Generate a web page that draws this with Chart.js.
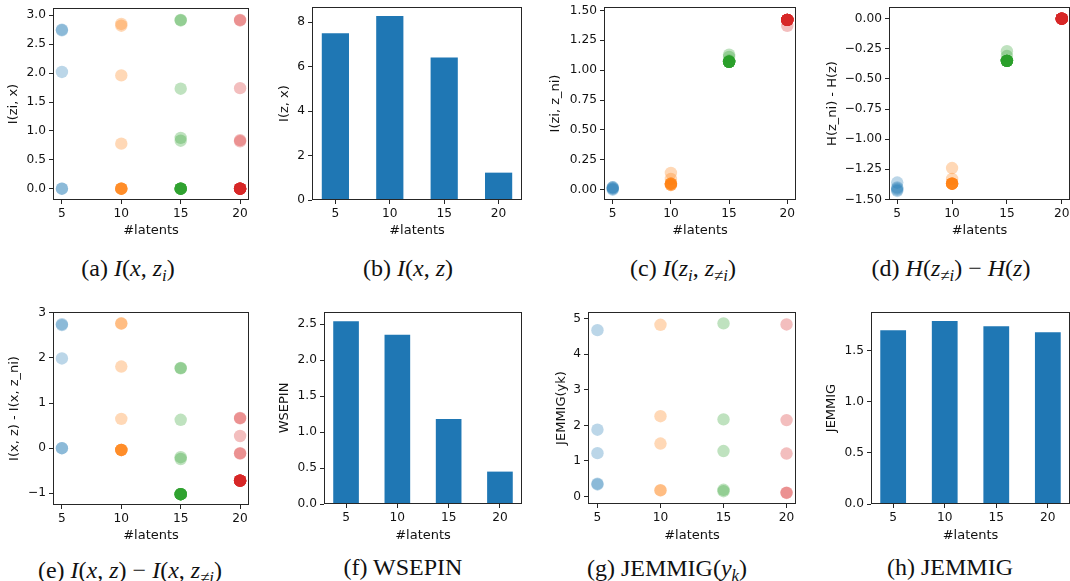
<!DOCTYPE html>
<html>
<head>
<meta charset="utf-8">
<script src="https://cdn.jsdelivr.net/npm/chart.js@4.4.0/dist/chart.umd.min.js"></script>
<style>
  html, body { margin: 0; padding: 0; background: #fff; width: 1070px; height: 581px; overflow: hidden; }
  .panel { position: absolute; }
  .cap { position: absolute; width: 300px; text-align: center; white-space: nowrap;
         font-family: "Liberation Serif", "Times New Roman", serif; font-size: 24px; line-height: 26px; color: #111; }
  .cap sub { font-size: 0.7em; vertical-align: baseline; position: relative; top: 0.3em; }
</style>
</head>
<body>
<script>
// ---- data ----
var latents = [5, 10, 15, 20];
var groupColors = ['31, 119, 180', '255, 127, 14', '44, 160, 44', '214, 39, 40'];

// (a) I(zi, x), one list per #latents
var izix = [
  [2.75, 2.74, 2.02, 0, 0],
  [2.85, 2.82, 1.96, 0.78, 0, 0, 0, 0, 0, 0],
  [2.92, 2.91, 1.73, 0.88, 0.83, 0, 0, 0, 0, 0, 0, 0, 0, 0, 0],
  [2.92, 2.91, 1.74, 0.84, 0.82, 0, 0, 0, 0, 0, 0, 0, 0, 0, 0, 0, 0, 0, 0, 0]
];
// (b) I(z, x)
var izx = [7.5, 8.27, 6.41, 1.23];
// (c) I(zi, z_ni)
var izizni = [
  [0.02, 0.01, 0.01, 0.0, 0.02],
  [0.14, 0.09, 0.05, 0.05, 0.04, 0.05, 0.04, 0.05, 0.04, 0.05],
  [1.13, 1.11, 1.08, 1.07, 1.07, 1.07, 1.07, 1.07, 1.07, 1.07, 1.07, 1.07, 1.07, 1.07, 1.07],
  [1.37, 1.42, 1.42, 1.42, 1.42, 1.42, 1.42, 1.42, 1.42, 1.42, 1.42, 1.42, 1.42, 1.42, 1.42, 1.42, 1.42, 1.42, 1.42, 1.42]
];
// (d) H(z_ni) - H(z)
var hdiff = [
  [-1.36, -1.40, -1.41, -1.42, -1.43],
  [-1.24, -1.33, -1.37, -1.37, -1.37, -1.37, -1.37, -1.37, -1.37, -1.37],
  [-0.27, -0.31, -0.35, -0.35, -0.35, -0.35, -0.35, -0.35, -0.35, -0.35, -0.35, -0.35, -0.35, -0.35, -0.35],
  [0, 0, 0, 0, 0, 0, 0, 0, 0, 0, 0, 0, 0, 0, 0, 0, 0, 0, 0, 0]
];
// (e) I(x, z) - I(x, z_ni)
var idiff = [
  [2.75, 2.73, 1.99, 0.0, 0.0],
  [2.77, 2.76, 1.81, 0.65, -0.04, -0.04, -0.04, -0.04, -0.04, -0.04],
  [1.78, 1.77, 0.63, -0.2, -0.24, -1.02, -1.02, -1.02, -1.02, -1.02, -1.02, -1.02, -1.02, -1.02, -1.02],
  [0.67, 0.66, 0.27, -0.11, -0.12, -0.72, -0.72, -0.72, -0.72, -0.72, -0.72, -0.72, -0.72, -0.72, -0.72, -0.72, -0.72, -0.72, -0.72, -0.72]
];
// (f) WSEPIN
var wsepin = [2.54, 2.35, 1.18, 0.45];
// (g) JEMMIG(yk)
var jemmigYk = [
  [4.68, 1.88, 1.22, 0.36, 0.34],
  [4.83, 2.26, 1.49, 0.18, 0.17],
  [4.87, 2.17, 1.28, 0.19, 0.15],
  [4.84, 2.15, 1.21, 0.11, 0.10]
];
// (h) JEMMIG
var jemmig = [1.70, 1.79, 1.74, 1.68];

// tick labels
var ticksA = [0, 0.5, 1, 1.5, 2, 2.5, 3];
var ticksB = [0, 2, 4, 6, 8];
var ticksC = [0, 0.25, 0.5, 0.75, 1, 1.25, 1.5];
var ticksD = [0, -0.25, -0.5, -0.75, -1, -1.25, -1.5];
var ticksE = [-1, 0, 1, 2, 3];
var ticksF = [0, 0.5, 1, 1.5, 2, 2.5];
var ticksG = [0, 1, 2, 3, 4, 5];
var ticksH = [0, 0.5, 1, 1.5];

// ---- drawing ----
var TICK_FONT = { family: 'DejaVu Sans', size: 12.2 };
var TITLE_FONT = { family: 'DejaVu Sans', size: 13 };
var PAD_TOP = 12, PAD_RIGHT = 12;
var ALPHA = 0.3;

var boxPlugin = {
  id: 'box',
  afterDraw: function (chart) {
    var a = chart.chartArea, ctx = chart.ctx;
    ctx.save();
    ctx.strokeStyle = '#262626';
    ctx.lineWidth = 1;
    ctx.strokeRect(a.left + 0.5, a.top + 0.5, a.right - a.left - 1, a.bottom - a.top - 1);
    ctx.restore();
  }
};

function fmt(v, dec) {
  return v.toFixed(dec).replace('-', '\u2212');
}

function scatterSets(groups) {
  return groups.map(function (vals, g) {
    return {
      data: vals.map(function (v) { return { x: latents[g], y: v }; }),
      backgroundColor: 'rgba(' + groupColors[g] + ', ' + ALPHA + ')',
      borderWidth: 0,
      pointRadius: 6.2,
      pointHoverRadius: 6.2
    };
  });
}

function barSets(vals) {
  return [{
    data: vals.map(function (v, i) { return { x: i, y: v }; }),
    backgroundColor: '#1f77b4',
    borderWidth: 0,
    barPercentage: 0.5,
    categoryPercentage: 1.0
  }];
}

function makePanel(p) {
  var r = p.rect;
  var cl = Math.round(p.yTitleX - TITLE_FONT.size * 0.6);
  var ct = r.T - PAD_TOP;
  var cr = r.R + PAD_RIGHT;
  var cb = Math.round(p.xTitleY + TITLE_FONT.size * 0.6);
  var div = document.createElement('div');
  div.className = 'panel';
  div.style.left = cl + 'px';
  div.style.top = ct + 'px';
  var canvas = document.createElement('canvas');
  canvas.width = cr - cl;
  canvas.height = cb - ct;
  div.appendChild(canvas);
  document.body.appendChild(div);

  var yW = r.L - cl;
  var xH = cb - r.B;
  var isBar = p.type === 'bar';
  var xTicks = isBar ? [0, 1, 2, 3] : latents;

  new Chart(canvas, {
    type: p.type,
    data: { datasets: p.datasets },
    options: {
      responsive: false,
      animation: false,
      events: [],
      layout: { padding: { top: PAD_TOP, right: PAD_RIGHT, left: 0, bottom: 0 } },
      plugins: { legend: { display: false }, tooltip: { enabled: false } },
      scales: {
        x: {
          type: 'linear',
          min: isBar ? -0.43 : 4.25,
          max: isBar ? 3.43 : 20.75,
          offset: false,
          grid: { display: true, offset: false, drawOnChartArea: false, drawTicks: true, tickLength: 4, color: '#262626' },
          border: { display: false },
          afterBuildTicks: function (s) { s.ticks = xTicks.map(function (v) { return { value: v }; }); },
          ticks: {
            font: TICK_FONT, color: '#111', padding: 3, autoSkip: false, maxRotation: 0,
            callback: function (v) { return isBar ? String(latents[v]) : String(v); }
          },
          title: { display: true, text: '#latents', font: TITLE_FONT, color: '#111', padding: 0 },
          afterFit: function (s) { s.height = xH; }
        },
        y: {
          type: 'linear',
          min: p.yMin,
          max: p.yMax,
          grid: { display: true, drawOnChartArea: false, drawTicks: true, tickLength: 4, color: '#262626' },
          border: { display: false },
          afterBuildTicks: function (s) { s.ticks = p.yTicks.map(function (v) { return { value: v }; }); },
          ticks: {
            font: TICK_FONT, color: '#111', padding: 3, autoSkip: false,
            callback: function (v) { return fmt(v, p.dec); }
          },
          title: { display: true, text: p.yTitle, font: TITLE_FONT, color: '#111', padding: 0 },
          afterFit: function (s) { s.width = yW; }
        }
      }
    },
    plugins: [boxPlugin]
  });
}

function caption(html, cx, cy) {
  var d = document.createElement('div');
  d.className = 'cap';
  d.style.left = (cx - 150) + 'px';
  d.style.top = (cy - 13) + 'px';
  d.innerHTML = html;
  document.body.appendChild(d);
}

makePanel({ type: 'scatter', datasets: scatterSets(izix), rect: { L: 53, T: 8, R: 249, B: 200 },
  yTitleX: 14, xTitleY: 230, yTitle: 'I(zi, x)', yMin: -0.195, yMax: 3.126, yTicks: ticksA, dec: 1 });
makePanel({ type: 'bar', datasets: barSets(izx), rect: { L: 312, T: 7, R: 522, B: 200 },
  yTitleX: 285, xTitleY: 230, yTitle: 'I(z, x)', yMin: 0, yMax: 8.68, yTicks: ticksB, dec: 0 });
makePanel({ type: 'scatter', datasets: scatterSets(izizni), rect: { L: 604, T: 7, R: 796, B: 200 },
  yTitleX: 556, xTitleY: 230, yTitle: 'I(zi, z_ni)', yMin: -0.086, yMax: 1.528, yTicks: ticksC, dec: 2 });
makePanel({ type: 'scatter', datasets: scatterSets(hdiff), rect: { L: 889, T: 7, R: 1070, B: 200 },
  yTitleX: 833, xTitleY: 230, yTitle: 'H(z_ni) - H(z)', yMin: -1.505, yMax: 0.097, yTicks: ticksD, dec: 2 });

makePanel({ type: 'scatter', datasets: scatterSets(idiff), rect: { L: 53, T: 312, R: 249, B: 505 },
  yTitleX: 15, xTitleY: 535, yTitle: 'I(x, z) - I(x, z_ni)', yMin: -1.26, yMax: 3.02, yTicks: ticksE, dec: 0 });
makePanel({ type: 'bar', datasets: barSets(wsepin), rect: { L: 324, T: 312, R: 522, B: 504 },
  yTitleX: 285, xTitleY: 535, yTitle: 'WSEPIN', yMin: 0, yMax: 2.667, yTicks: ticksF, dec: 1 });
makePanel({ type: 'scatter', datasets: scatterSets(jemmigYk), rect: { L: 588, T: 312, R: 796, B: 504 },
  yTitleX: 562, xTitleY: 535, yTitle: 'JEMMIG(yk)', yMin: -0.21, yMax: 5.19, yTicks: ticksG, dec: 0 });
makePanel({ type: 'bar', datasets: barSets(jemmig), rect: { L: 871, T: 312, R: 1070, B: 504 },
  yTitleX: 832, xTitleY: 535, yTitle: 'JEMMIG', yMin: 0, yMax: 1.879, yTicks: ticksH, dec: 1 });

caption('(a) <i>I</i>(<i>x</i>, <i>z<sub>i</sub></i>)', 128, 268);
caption('(b) <i>I</i>(<i>x</i>, <i>z</i>)', 408, 268);
caption('(c) <i>I</i>(<i>z<sub>i</sub></i>, <i>z<sub>\u2260i</sub></i>)', 683, 268);
caption('(d) <i>H</i>(<i>z<sub>\u2260i</sub></i>) \u2212 <i>H</i>(<i>z</i>)', 951, 268);
caption('(e) <i>I</i>(<i>x</i>, <i>z</i>) \u2212 <i>I</i>(<i>x</i>, <i>z<sub>\u2260i</sub></i>)', 130, 570);
caption('(f) WSEPIN', 403, 567);
caption('(g) JEMMIG(<i>y<sub>k</sub></i>)', 667, 568);
caption('(h) JEMMIG', 950, 567);
</script>
</body>
</html>
